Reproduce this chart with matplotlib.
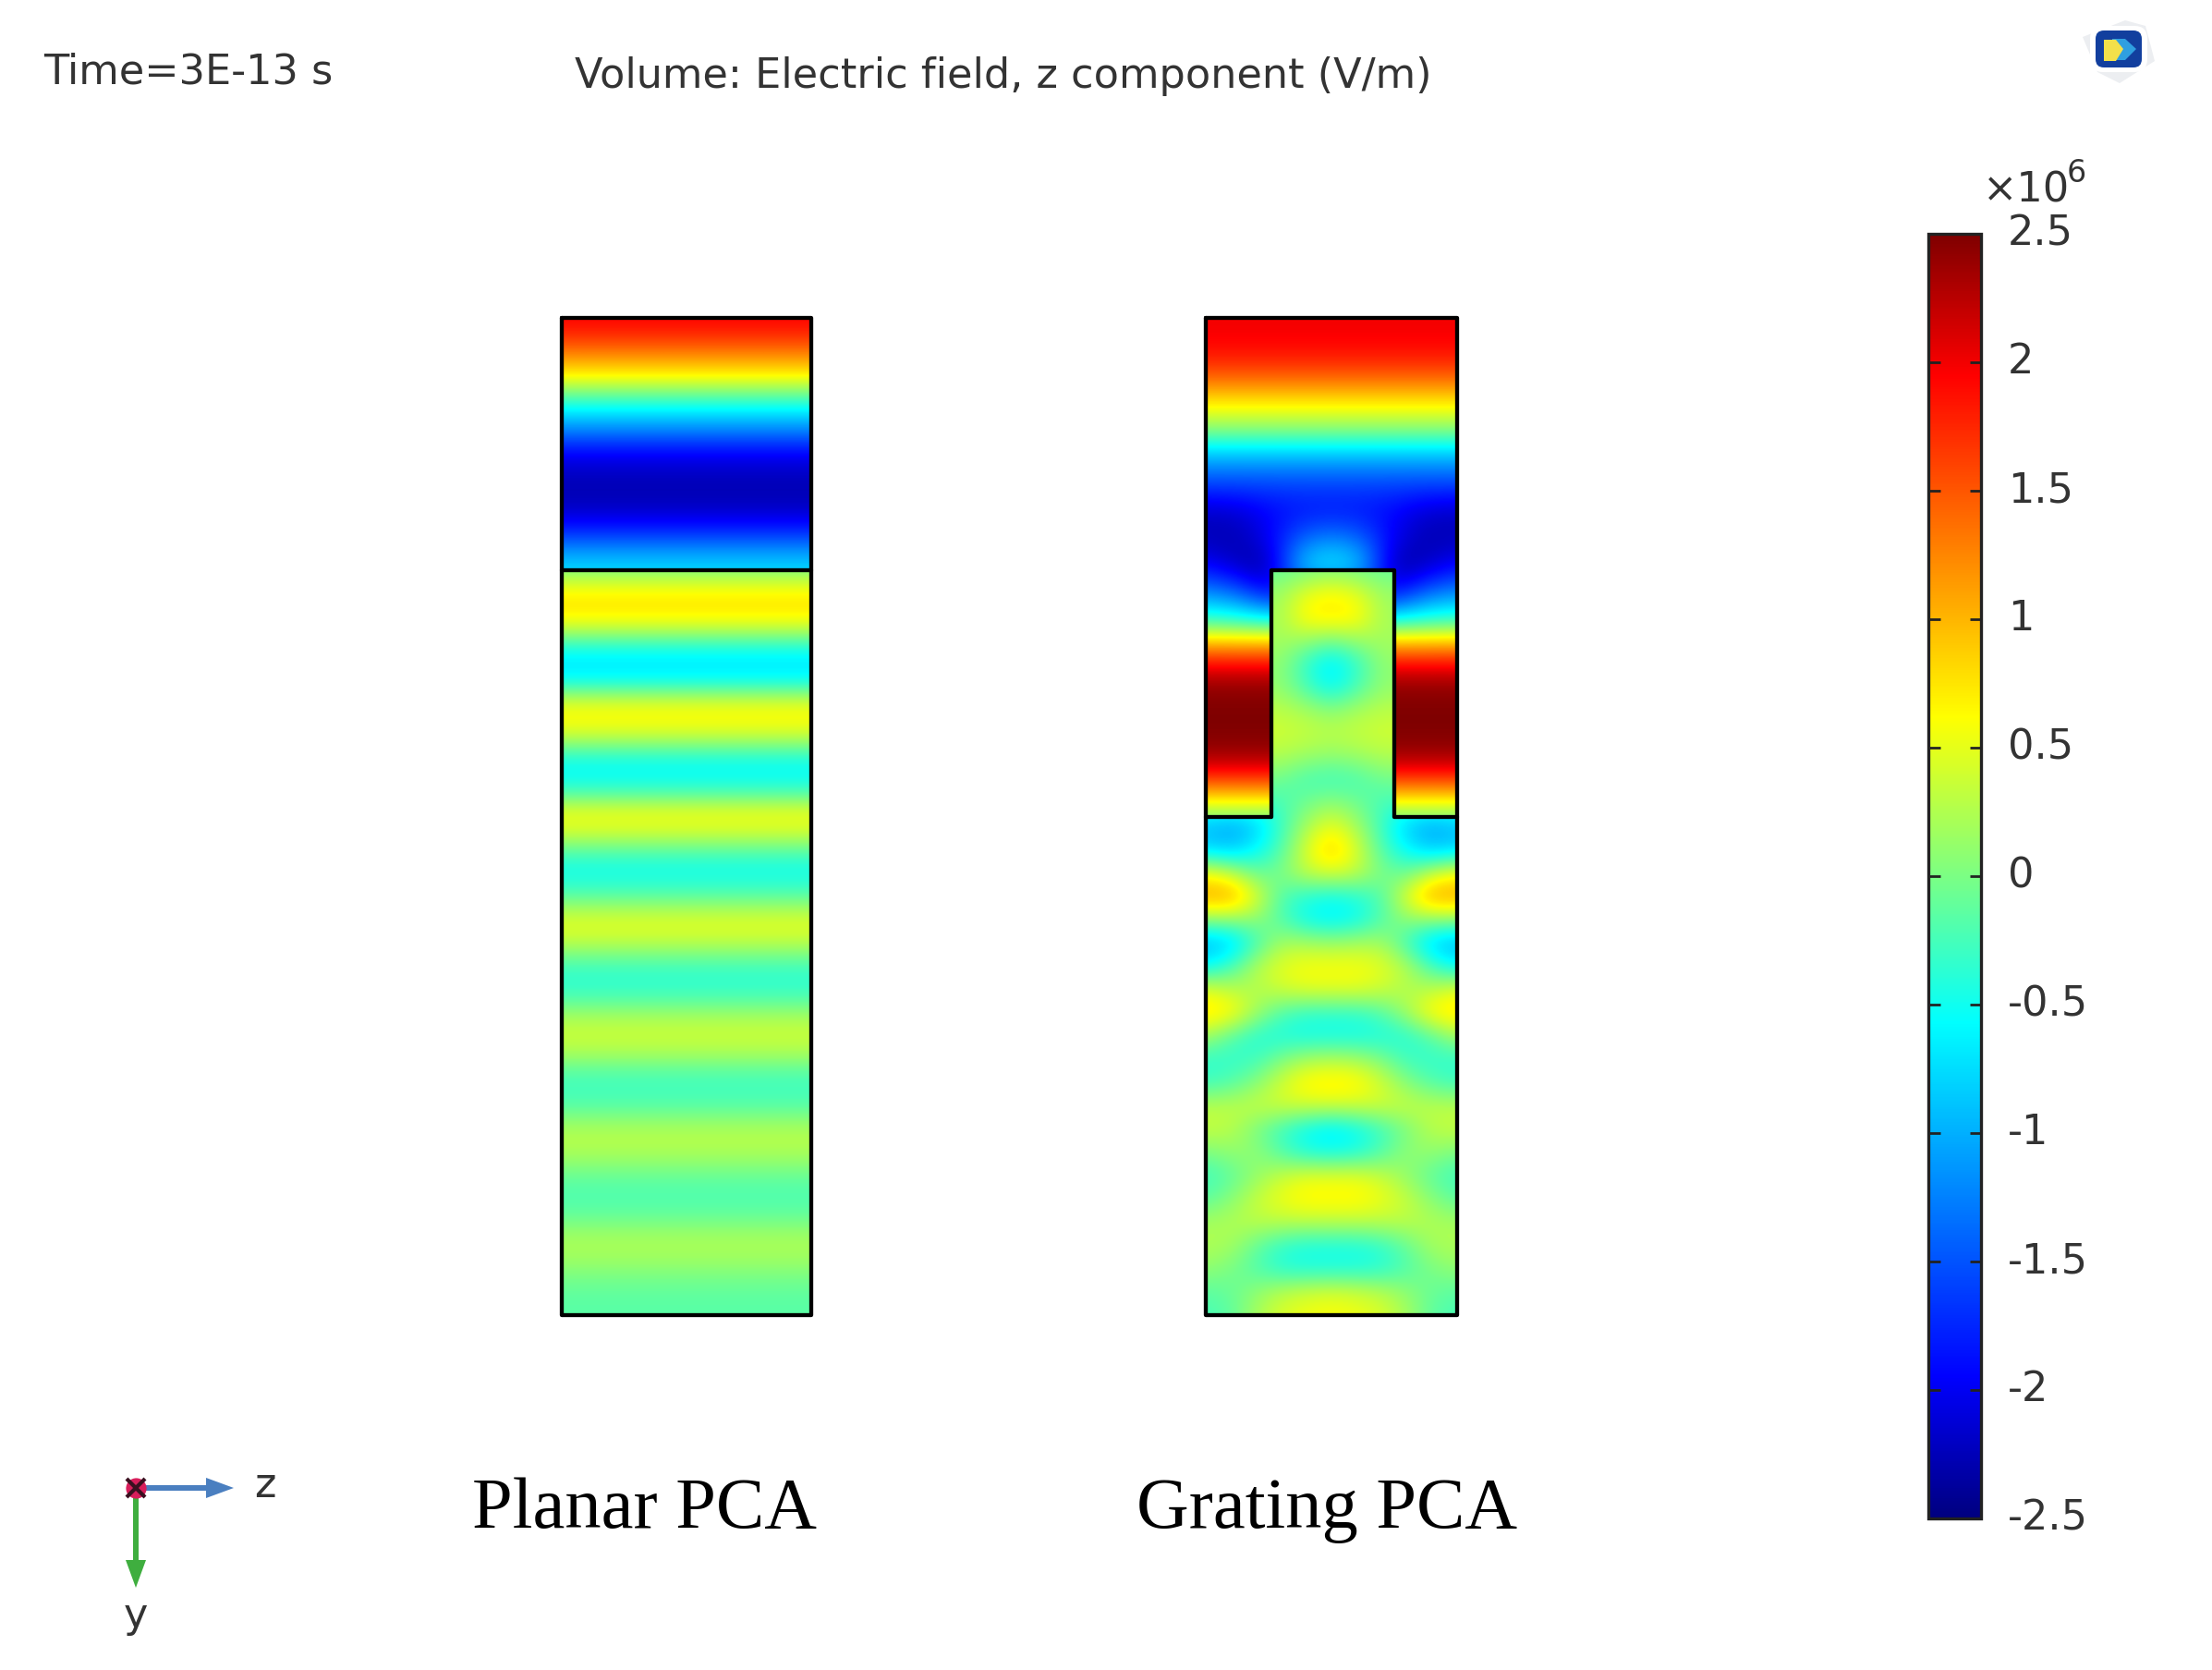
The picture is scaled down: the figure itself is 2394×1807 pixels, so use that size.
# Electric field z component, planar vs grating PCA
import matplotlib
matplotlib.use("Agg")
import matplotlib.pyplot as plt
import numpy as np
from matplotlib.colors import LinearSegmentedColormap
from matplotlib.patches import Polygon, FancyBboxPatch, FancyArrow

# planar: field along the depth, in units of 1e6 V/m
planar_air = [1.95, 1.7, 1.2, 0.65, -0.1, -0.75, -1.35, -1.95, -2.2, -2.28, -2.15, -1.75, -1.15, -0.75]
planar_sub = [0.0, 0.55, 0.78, 0.45, -0.3, -0.72, -0.5, 0.35, 0.66, 0.3, -0.35, -0.58, -0.2, 0.5,
              0.45, -0.1, -0.47, -0.35, 0.1, 0.48, 0.3, -0.15, -0.38, -0.2, 0.2, 0.38, 0.2, -0.18,
              -0.28, -0.1, 0.22, 0.27, 0.05, -0.17, -0.2, -0.02, 0.22, 0.17, -0.02, -0.14, -0.16]

# grating: left half only, from the side wall to the centre line (the cell is symmetric)
grating_air = [
    [2.0, 2.0, 2.0, 2.0, 2.0],
    [1.95, 1.95, 1.95, 1.95, 1.95],
    [1.55, 1.55, 1.55, 1.55, 1.55],
    [0.75, 0.75, 0.75, 0.75, 0.75],
    [0.1, 0.1, 0.1, 0.1, 0.1],
    [-0.95, -0.95, -0.95, -0.95, -0.95],
    [-1.6, -1.6, -1.6, -1.6, -1.6],
    [-2.2, -2.15, -1.95, -1.85, -1.85],
    [-2.25, -2.3, -2.0, -1.4, -1.15],
    [-1.9, -2.2, -2.4, -0.8, -0.55],
    [-1.1, -1.3, -1.9, -1.9, -1.9],
    [-0.2, -0.25, -0.3, -0.3, -0.3],
    [1.4, 1.4, 1.4, 1.4, 1.4],
    [2.35, 2.35, 2.35, 2.35, 2.35],
    [2.5, 2.5, 2.5, 2.5, 2.5],
    [2.5, 2.5, 2.5, 2.5, 2.5],
    [2.3, 2.3, 2.3, 2.3, 2.3],
    [1.2, 1.2, 1.2, 1.2, 1.2],
    [-0.1, -0.1, -0.1, -0.1, -0.1],
]
grating_sub = [
    [-0.1, -0.1, -0.1, -0.1, -0.05, 0.0],
    [0.15, 0.15, 0.15, 0.15, 0.5, 0.65],
    [0.2, 0.2, 0.2, 0.2, 0.7, 0.75],
    [0.2, 0.2, 0.2, 0.2, 0.15, 0.0],
    [0.1, 0.1, 0.1, 0.1, -0.35, -0.7],
    [0.1, 0.1, 0.1, 0.1, -0.25, -0.6],
    [0.3, 0.3, 0.3, 0.3, 0.2, 0.05],
    [0.4, 0.4, 0.4, 0.4, 0.35, 0.3],
    [0.25, 0.25, 0.25, 0.25, 0.15, 0.1],
    [-0.05, -0.05, -0.05, -0.05, -0.25, -0.3],
    [-0.25, -0.25, -0.25, -0.25, -0.05, 0.1],
    [-0.9, -1.05, -0.85, -0.3, 0.2, 0.55],
    [-0.8, -0.9, -0.6, -0.2, 0.45, 0.95],
    [0.6, 0.35, -0.1, 0.0, 0.35, 0.45],
    [1.1, 1.15, 0.5, -0.2, -0.4, -0.5],
    [0.1, 0.1, 0.1, -0.2, -0.55, -0.65],
    [-1.0, -0.85, -0.3, 0.2, 0.2, 0.15],
    [-0.6, -0.3, 0.25, 0.5, 0.6, 0.6],
    [0.5, 0.3, 0.25, 0.4, 0.5, 0.5],
    [0.8, 0.7, 0.2, -0.2, -0.35, -0.35],
    [0.2, -0.15, -0.4, -0.45, -0.5, -0.5],
    [-0.35, -0.35, -0.3, 0.0, 0.2, 0.25],
    [-0.3, -0.2, 0.05, 0.4, 0.7, 0.75],
    [0.3, 0.3, 0.35, 0.4, 0.4, 0.4],
    [0.35, 0.3, 0.0, -0.3, -0.55, -0.7],
    [0.0, 0.1, 0.1, -0.2, -0.45, -0.5],
    [-0.3, -0.15, 0.1, 0.35, 0.5, 0.5],
    [-0.15, 0.05, 0.35, 0.55, 0.68, 0.68],
    [0.2, 0.25, 0.3, 0.3, 0.3, 0.3],
    [0.25, 0.2, -0.1, -0.35, -0.45, -0.45],
    [0.1, 0.0, -0.2, -0.4, -0.45, -0.45],
    [-0.15, -0.1, 0.1, 0.3, 0.4, 0.45],
    [-0.25, -0.15, 0.2, 0.45, 0.55, 0.6],
]

cbar_ticks = [2.5, 2, 1.5, 1, 0.5, 0, -0.5, -1, -1.5, -2, -2.5]
cbar_labels = ['2.5', '2', '1.5', '1', '0.5', '0', '-0.5', '-1', '-1.5', '-2', '-2.5']

W, H = 2394, 1807
TOP, MID, NOTCH, BOT = 344, 617, 884, 1423
P_L, P_R = 608, 878
G_L, G_R, PIL_L, PIL_R = 1305, 1577, 1376, 1509
VMIN, VMAX = -2.5, 2.5
TXT = '#333333'
FS = 32.1
LW = 3.1

# rainbow of the colour bar: like jet, but cyan and yellow sit closer to zero
def pos(v):
    return (v - VMIN) / (VMAX - VMIN)

rainbow = LinearSegmentedColormap.from_list('rainbow_bar', [
    (pos(-2.5), (0, 0, 0.5)), (pos(-1.95), (0, 0, 1)), (pos(-0.57), (0, 1, 1)),
    (pos(0.02), (0.5, 1, 0.5)), (pos(0.62), (1, 1, 0)), (pos(1.95), (1, 0, 0)),
    (pos(2.5), (0.5, 0, 0))], N=512)

fig = plt.figure(figsize=(W / 100, H / 100), dpi=100)
ax = fig.add_axes([0, 0, 1, 1])
ax.set_axis_off()


def field(data, x0, x1, y0, y1, clip=None):
    # x0..x1, y0..y1 are the first and last sample centres
    data = np.asarray(data, dtype=float)
    if data.ndim == 1:
        data = data.reshape(-1, 1)
    ny, nx = data.shape
    dy = (y1 - y0) / (ny - 1)
    dx = (x1 - x0) / (nx - 1) if nx > 1 else x1 - x0
    if nx > 1:
        ext = [x0 - dx / 2, x1 + dx / 2, y1 + dy / 2, y0 - dy / 2]
    else:
        ext = [x0, x1, y1 + dy / 2, y0 - dy / 2]
    im = ax.imshow(data, extent=ext, origin='upper', cmap=rainbow, vmin=VMIN, vmax=VMAX,
                   aspect='auto', interpolation='bicubic', interpolation_stage='data')
    if clip is None:
        clip = [(x0, y0), (x1, y0), (x1, y1), (x0, y1)]
    im.set_clip_path(Polygon(clip, closed=True, transform=ax.transData))
    return im


def mirror(half):
    half = np.asarray(half, dtype=float)
    return np.hstack([half, half[:, -2::-1]])


# planar cell
im = field(planar_air, P_L, P_R, TOP, MID)
field(planar_sub, P_L, P_R, MID, BOT)

# grating cell: air on top and in the slots, substrate in the pillar and below
air_clip = [(G_L, TOP), (G_R, TOP), (G_R, NOTCH), (PIL_R, NOTCH), (PIL_R, MID),
            (PIL_L, MID), (PIL_L, NOTCH), (G_L, NOTCH)]
sub_clip = [(PIL_L, MID), (PIL_R, MID), (PIL_R, NOTCH), (G_R, NOTCH), (G_R, BOT),
            (G_L, BOT), (G_L, NOTCH), (PIL_L, NOTCH)]
field(mirror(grating_air), G_L, G_R, TOP, NOTCH, clip=air_clip)
field(mirror(grating_sub), G_L, G_R, MID, BOT, clip=sub_clip)

# outlines
edge = dict(color='black', lw=LW, solid_joinstyle='round', solid_capstyle='round')
ax.plot([P_L, P_R, P_R, P_L, P_L], [TOP, TOP, BOT, BOT, TOP], **edge)
ax.plot([P_L, P_R], [MID, MID], **edge)
ax.plot([G_L, G_R, G_R, G_L, G_L], [TOP, TOP, BOT, BOT, TOP], **edge)
ax.plot([G_L, PIL_L, PIL_L, PIL_R, PIL_R, G_R],
        [NOTCH, NOTCH, MID, MID, NOTCH, NOTCH], **edge)

# header
ax.text(47, 78, 'Time=3E-13 s', fontsize=FS, color=TXT, va='center', ha='left')
ax.text(622, 82, 'Volume: Electric field, z component (V/m)', fontsize=FS, color=TXT,
        va='center', ha='left')

# captions
ax.text(511, 1634, 'Planar PCA', fontsize=56.5, family='Liberation Serif', color='black',
        va='center', ha='left')
ax.text(1230, 1634, 'Grating PCA', fontsize=56.5, family='Liberation Serif', color='black',
        va='center', ha='left')

# axis triad
ax.add_patch(FancyArrow(147, 1610, 106, 0, width=6, head_width=22, head_length=30,
                        length_includes_head=True, color='#4a7fc0', lw=0))
ax.add_patch(FancyArrow(147, 1610, 0, 108, width=6, head_width=22, head_length=30,
                        length_includes_head=True, color='#3fae3f', lw=0))
ax.plot([147], [1610], 'o', ms=16, color='#d81e5b', mew=0)
ax.plot([147], [1610], 'x', ms=15, color='#3a1020', mew=3)
ax.text(287, 1608, 'z', fontsize=FS, color=TXT, va='center', ha='center')
ax.text(147, 1748, 'y', fontsize=FS, color=TXT, va='center', ha='center')

# little logo in the corner
ax.add_patch(Polygon([(2254, 40), (2300, 22), (2322, 28), (2332, 66), (2294, 90), (2270, 78)],
                     fc='#eceef1', ec='none'))
ax.add_patch(FancyBboxPatch((2262, 28), 62, 50, boxstyle='round,pad=0,rounding_size=14',
                            fc='white', ec='none'))
ax.add_patch(FancyBboxPatch((2269, 34), 48, 38, boxstyle='round,pad=1,rounding_size=9',
                            fc='#123f9e', ec='none'))
ax.add_patch(Polygon([(2286, 42), (2300, 42), (2312, 53), (2300, 65), (2286, 65)],
                     fc='#2f9fe0', ec='none'))
ax.add_patch(Polygon([(2277, 43), (2290, 43), (2298, 53), (2290, 66), (2277, 66)],
                     fc='#f3e04a', ec='none'))

ax.set_xlim(0, W)
ax.set_ylim(H, 0)

# colour bar
cax = fig.add_axes([2087 / W, 1 - 1643 / H, 57 / W, 1390 / H])
cb = fig.colorbar(im, cax=cax, ticks=cbar_ticks)
cb.ax.set_yticklabels([])
cb.ax.tick_params(axis='y', direction='in', left=True, right=True, length=9, width=2,
                  color='#222222')
cb.outline.set_linewidth(2.4)
cb.outline.set_edgecolor('#222222')
for v, s in zip(cbar_ticks, cbar_labels):
    cb.ax.annotate(s, xy=(1, v), xycoords=cb.ax.get_yaxis_transform(), xytext=(21, 0),
                   textcoords='offset points', fontsize=FS, color=TXT, va='center', ha='left')
ax.text(2146, 218, '\u00d710', fontsize=FS, color=TXT, va='baseline', ha='left')
ax.text(2237, 197, '6', fontsize=24, color=TXT, va='baseline', ha='left')

fig.savefig('out.png', dpi=100)
